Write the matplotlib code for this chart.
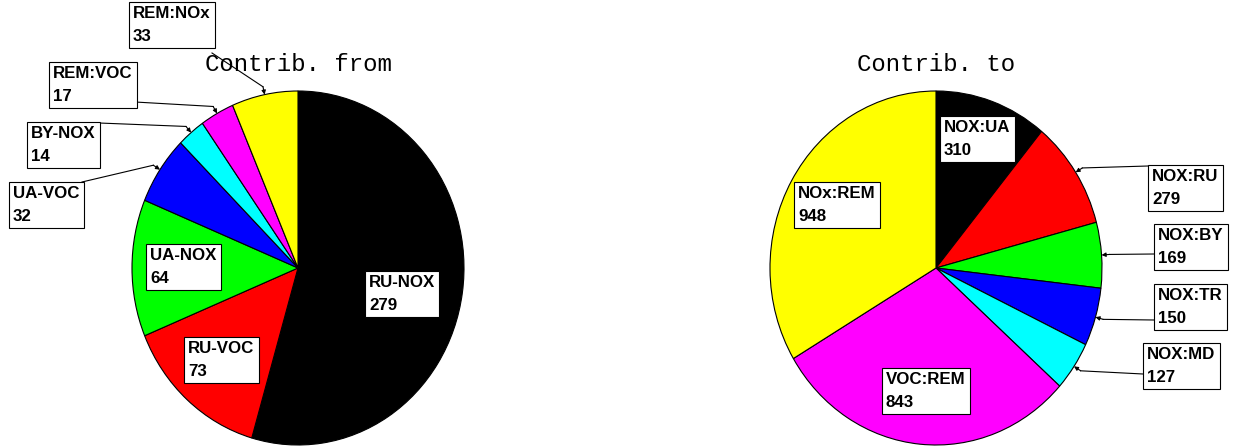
import numpy as np
import matplotlib.pyplot as plt

# data
from_names = ["RU-NOX", "RU-VOC", "UA-NOX", "UA-VOC", "BY-NOX", "REM:VOC", "REM:NOx"]
from_values = [279, 73, 64, 32, 14, 17, 33]
to_names = ["NOX:UA", "NOX:RU", "NOX:BY", "NOX:TR", "NOX:MD", "VOC:REM", "NOx:REM"]
to_values = [310, 279, 169, 150, 127, 843, 948]
colors = ["black", "red", "#00ff00", "blue", "cyan", "magenta", "yellow"]

W, H = 1235, 446
RX, RY = 166, 177

# label boxes: (left, top) in pixels, optional anchor on box for leader line
from_boxes = [
    ((365, 271), None),
    ((184, 337), None),
    ((146, 244), None),
    ((9, 182), (82, 182)),
    ((27, 122), (99, 123)),
    ((49, 62), (135, 102)),
    ((129, 2), (212, 53)),
]
to_boxes = [
    ((940, 116), None),
    ((1148, 165), (1148, 166)),
    ((1154, 224), (1154, 254)),
    ((1154, 284), (1154, 320)),
    ((1143, 343), (1143, 374)),
    ((882, 368), None),
    ((794, 182), None),
]

fig = plt.figure(figsize=(W / 100, H / 100), dpi=100)
over = fig.add_axes([0, 0, 1, 1], zorder=5)
over.set_xlim(0, W)
over.set_ylim(H, 0)
over.axis("off")
over.patch.set_alpha(0)


def draw_pie(cx, cy, values, names, boxes, title):
    ax = fig.add_axes([(cx - RX) / W, (H - cy - RY) / H, 2 * RX / W, 2 * RY / H])
    wedges, _ = ax.pie(values, colors=colors, startangle=90, counterclock=False,
                       radius=1, wedgeprops=dict(edgecolor="black", linewidth=0.8))
    ax.set_aspect("auto")
    ax.set_xlim(-1, 1)
    ax.set_ylim(-1, 1)
    over.text(cx, cy - 197, title, family="Liberation Mono", fontsize=17.3,
              ha="center", va="baseline")
    for w, name, val, (pos, anchor) in zip(wedges, names, values, boxes):
        over.text(pos[0] + 4, pos[1] + 4, f"{name}\n{val}", ha="left", va="top",
                  family="Liberation Sans", weight="bold", fontsize=12.2,
                  linespacing=1.65,
                  bbox=dict(boxstyle="square,pad=0.25", fc="white", ec="black", lw=0.8))
        if anchor is not None:
            a = np.deg2rad((w.theta1 + w.theta2) / 2)
            tx, ty = cx + RX * np.cos(a), cy - RY * np.sin(a)
            bx, by = tx + 8 * np.cos(a), ty - 8 * np.sin(a)
            over.plot([anchor[0], bx], [anchor[1], by], color="black", lw=0.8)
            over.annotate("", xy=(tx, ty), xytext=(bx, by),
                          arrowprops=dict(arrowstyle="-|>", mutation_scale=6,
                                          lw=0.8, color="black",
                                          shrinkA=0, shrinkB=0))


draw_pie(298, 268, from_values, from_names, from_boxes, "Contrib. from")
draw_pie(936, 268, to_values, to_names, to_boxes, "Contrib. to")

fig.savefig("out.png", dpi=100)
